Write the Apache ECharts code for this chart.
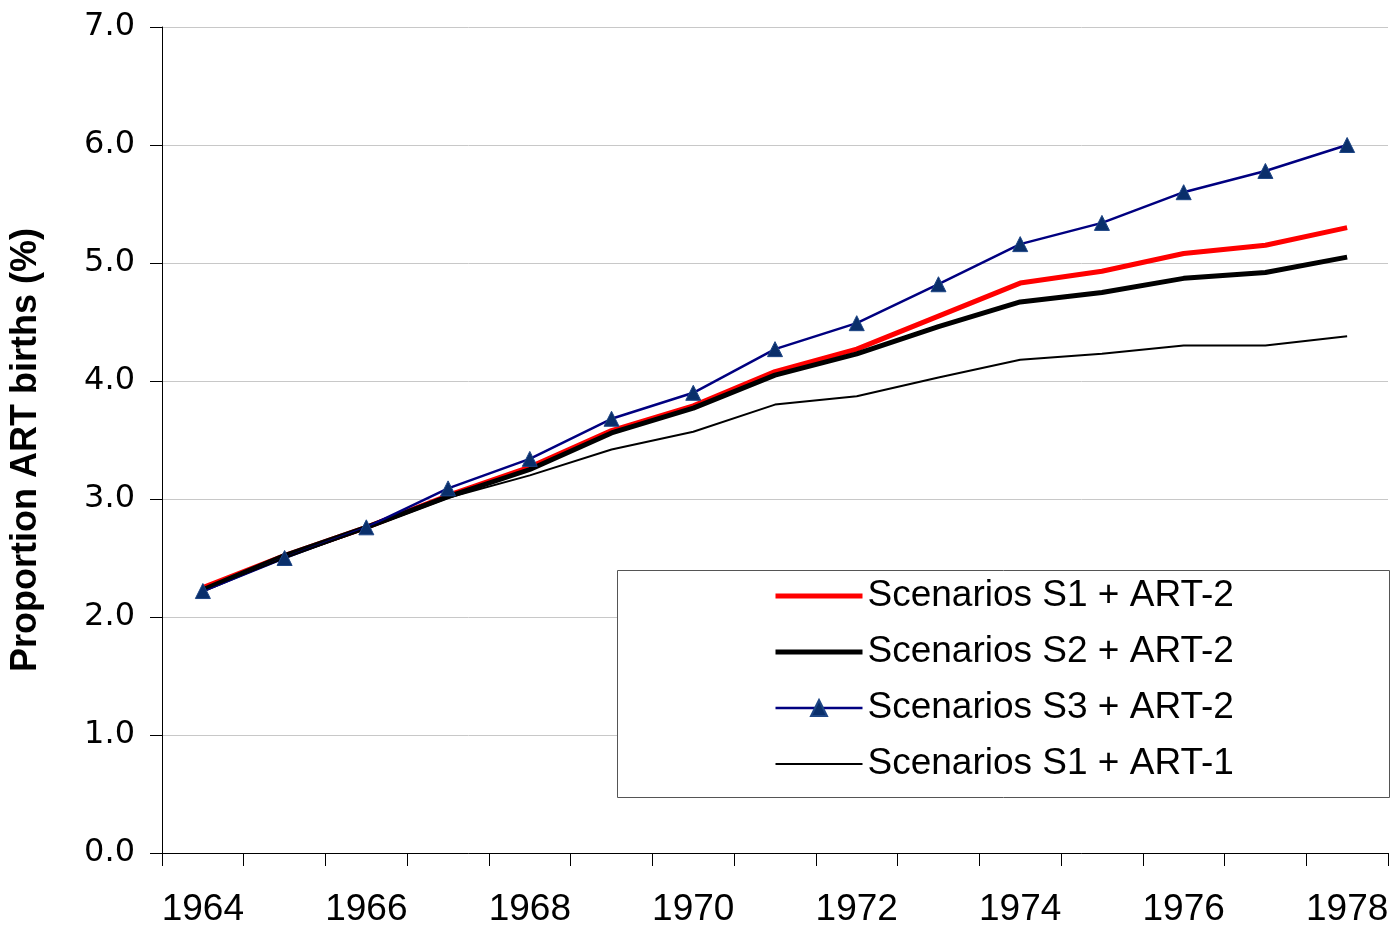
<!DOCTYPE html>
<html>
<head>
<meta charset="utf-8">
<style>
  html, body { margin: 0; padding: 0; background: #fff; }
  #main { width: 1397px; height: 928px; }
</style>
<script src="https://cdn.jsdelivr.net/npm/echarts@6/dist/echarts.min.js"></script>
</head>
<body>
<div id="main"></div>
<script>
// years on the x axis
var years = ['1964', '1965', '1966', '1967', '1968', '1969', '1970', '1971',
             '1972', '1973', '1974', '1975', '1976', '1977', '1978'];

// proportion of ART births (%) per scenario
var s1Art2 = [2.25, 2.52, 2.76, 3.03, 3.27, 3.58, 3.79, 4.08, 4.27, 4.55, 4.83, 4.93, 5.08, 5.15, 5.30];
var s2Art2 = [2.23, 2.52, 2.76, 3.02, 3.25, 3.56, 3.77, 4.05, 4.23, 4.46, 4.67, 4.75, 4.87, 4.92, 5.05];
var s3Art2 = [2.22, 2.50, 2.76, 3.09, 3.34, 3.68, 3.90, 4.27, 4.49, 4.82, 5.16, 5.34, 5.60, 5.78, 6.00];
var s1Art1 = [2.23, 2.50, 2.75, 3.01, 3.20, 3.42, 3.57, 3.80, 3.87, 4.03, 4.18, 4.23, 4.30, 4.30, 4.38];

var seriesNames = ['Scenarios S1 + ART-2', 'Scenarios S2 + ART-2',
                   'Scenarios S3 + ART-2', 'Scenarios S1 + ART-1'];

var myChart = echarts.init(document.getElementById('main'));

myChart.setOption({
  animation: false,
  backgroundColor: '#fff',
  grid: { left: 162, right: 9, top: 27, bottom: 71 },
  graphic: [{
    // legend frame
    type: 'rect',
    left: 617,
    top: 570,
    shape: { width: 772, height: 227 },
    style: { fill: '#fff', stroke: '#555', lineWidth: 1 },
    z: 90
  }],
  legend: {
    orient: 'vertical',
    left: 773,
    top: 576,
    itemWidth: 87,
    itemHeight: 20,
    itemGap: 16,
    padding: 0,
    z: 100,
    textStyle: {
      fontFamily: 'Liberation Sans',
      fontSize: 37,
      lineHeight: 40,
      color: '#000'
    },
    data: [
      { name: seriesNames[0], itemStyle: { opacity: 0 }, lineStyle: { width: 5, color: '#ff0000' } },
      { name: seriesNames[1], itemStyle: { opacity: 0 }, lineStyle: { width: 5, color: '#000' } },
      { name: seriesNames[2], lineStyle: { width: 2.5, color: '#000080' } },
      { name: seriesNames[3], itemStyle: { opacity: 0 }, lineStyle: { width: 2, color: '#000' } }
    ]
  },
  xAxis: {
    type: 'category',
    data: years,
    boundaryGap: true,
    axisLine: { lineStyle: { color: '#000', width: 1 } },
    axisTick: { show: true, interval: 0, length: 13, lineStyle: { color: '#000' } },
    axisLabel: {
      interval: 1,
      margin: 38,
      fontFamily: 'Liberation Sans',
      fontSize: 37,
      color: '#000'
    },
    splitLine: { show: false }
  },
  yAxis: {
    type: 'value',
    min: 0,
    max: 7,
    interval: 1,
    name: 'Proportion ART births (%)',
    nameLocation: 'middle',
    nameGap: 118,
    nameRotate: 90,
    nameTextStyle: {
      fontFamily: 'Liberation Sans',
      fontWeight: 'bold',
      fontSize: 36,
      color: '#000',
      padding: [0, 20, 0, 0]
    },
    axisLine: { show: true, lineStyle: { color: '#000', width: 1 } },
    axisTick: { show: true, length: 12, lineStyle: { color: '#000' } },
    axisLabel: {
      margin: 27,
      fontFamily: 'DejaVu Sans',
      fontSize: 32,
      color: '#000',
      formatter: function (v) { return v.toFixed(1); }
    },
    splitLine: { show: true, lineStyle: { color: '#c8c8c8', width: 1 } }
  },
  series: [
    {
      name: seriesNames[0],
      type: 'line',
      data: s1Art2,
      symbol: 'none',
      color: '#ff0000',
      lineStyle: { color: '#ff0000', width: 5 }
    },
    {
      name: seriesNames[1],
      type: 'line',
      data: s2Art2,
      symbol: 'none',
      color: '#000',
      lineStyle: { color: '#000', width: 5 }
    },
    {
      name: seriesNames[2],
      type: 'line',
      data: s3Art2,
      symbol: 'triangle',
      symbolSize: 15,
      color: '#0a2f6b',
      itemStyle: { color: '#0a2f6b', borderColor: '#1d4585', borderWidth: 1 },
      lineStyle: { color: '#000080', width: 2.5 },
      z: 3
    },
    {
      name: seriesNames[3],
      type: 'line',
      data: s1Art1,
      symbol: 'none',
      color: '#000',
      lineStyle: { color: '#000', width: 2 }
    }
  ]
});
</script>
</body>
</html>
